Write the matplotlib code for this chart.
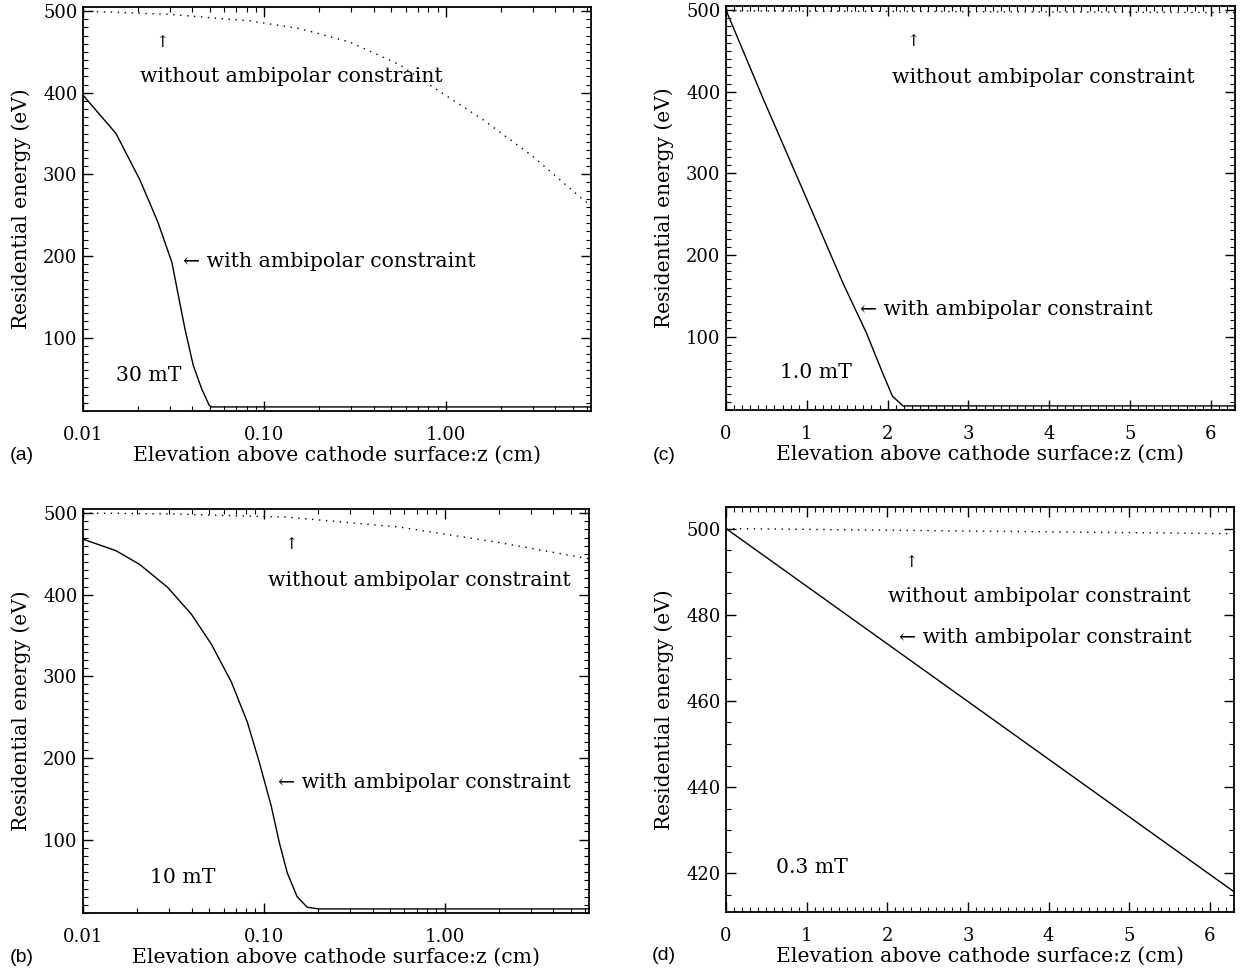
import numpy as np
import matplotlib.pyplot as plt
from matplotlib.ticker import MultipleLocator, FixedLocator, FuncFormatter, LogLocator, NullFormatter

# ---- data ----
# (a) 30 mT, log z
za_with = [0.01, 0.0152, 0.0206, 0.0259, 0.0309, 0.0335, 0.0365, 0.0405, 0.0451, 0.0496, 0.051, 6.3]
ea_with = [397, 350, 293, 241, 192, 152, 110, 66, 37, 17, 15, 15]
za_without = [0.01, 0.03, 0.0832, 0.157, 0.296, 0.558, 0.848, 1.60, 3.01, 5.69, 6.3]
ea_without = [500, 496, 488, 478.5, 462, 434, 407, 367, 322, 269, 262]

# (b) 10 mT, log z
zb_with = [0.01, 0.0152, 0.0206, 0.0294, 0.0398, 0.0514, 0.0662, 0.0811, 0.0944,
           0.110, 0.122, 0.135, 0.153, 0.174, 0.202, 6.3]
eb_with = [468, 454, 437, 409, 376, 339, 293, 244, 195, 141, 96, 59, 30, 17, 15, 15]
zb_without = [0.01, 0.03, 0.135, 0.558, 1.99, 6.3]
eb_without = [500, 499, 495, 483, 464, 444]

# (c) 1.0 mT, linear z
zc_with = [0.0, 0.466, 1.006, 1.45, 1.74, 1.94, 2.06, 2.19, 6.3]
ec_with = [500, 390, 267, 165, 104, 55, 27, 15, 15]
zc_without = [0.0, 6.3]
ec_without = [499, 497]

# (d) 0.3 mT, linear z
zd_with = [0.0, 6.3]
ed_with = [500, 415.7]
zd_without = [0.0, 6.3]
ed_without = [500, 498.8]

SERIF = ['DejaVu Serif', 'DejaVu Sans']
FS_TICK = 13
FS_TEXT = 14.7

fig = plt.figure(figsize=(12.43, 9.74), dpi=100)
W, H = 1243, 974


def make_ax(left, right, top, bottom):
    return fig.add_axes([left / W, 1 - bottom / H, (right - left) / W, (bottom - top) / H])


def style(ax, logx, yminor):
    for s in ax.spines.values():
        s.set_linewidth(1.3)
    ax.tick_params(which='both', direction='in', top=True, right=True, labelsize=FS_TICK)
    ax.tick_params(which='major', length=7, width=1)
    ax.tick_params(which='minor', length=3.5, width=0.8)
    ax.tick_params(axis='x', pad=11)
    ax.tick_params(axis='y', pad=4)
    for lab in ax.get_xticklabels() + ax.get_yticklabels():
        lab.set_family(SERIF)
    if logx:
        ax.set_xscale('log')
        ax.xaxis.set_major_locator(FixedLocator([0.01, 0.1, 1.0]))
        ax.xaxis.set_major_formatter(FuncFormatter(lambda v, p: f"{v:.2f}"))
        ax.xaxis.set_minor_locator(LogLocator(base=10, subs=np.arange(2, 10)))
        ax.xaxis.set_minor_formatter(NullFormatter())
    else:
        ax.xaxis.set_major_locator(MultipleLocator(1))
        ax.xaxis.set_minor_locator(MultipleLocator(0.1))
    ax.yaxis.set_minor_locator(MultipleLocator(yminor))
    ax.set_xlabel("Elevation above cathode surface:z (cm)", fontsize=FS_TEXT, family=SERIF)
    ax.set_ylabel("Residential energy (eV)", fontsize=14.5, family=SERIF)
    ax.xaxis.set_label_coords(0.5, -0.109)
    ax.xaxis.label.set_va('center')
    ax.yaxis.set_label_coords(-0.122, 0.5)
    ax.yaxis.label.set_va('center')


def notes(ax, arrow_xy, without_xy, with_xy, field, field_xy):
    kw = dict(transform=ax.transAxes, fontsize=FS_TEXT, family=SERIF, va='center', ha='left')
    ax.text(arrow_xy[0], arrow_xy[1], "\u2191", fontsize=FS_TEXT - 3, family=SERIF,
            transform=ax.transAxes, va='center', ha='center')
    ax.text(without_xy[0], without_xy[1], "without ambipolar constraint", **kw)
    ax.text(with_xy[0], with_xy[1], "\u2190 with ambipolar constraint", **kw)
    ax.text(field_xy[0], field_xy[1], field, **kw)


dot = (0, (1, 4))

# (a)
ax = make_ax(83, 591, 7, 411)
ax.plot(za_with, ea_with, color='black', lw=1)
ax.plot(za_without, ea_without, color='black', lw=1, linestyle=dot)
ax.set_xlim(0.01, 6.3)
ax.set_ylim(10, 505)
ax.yaxis.set_major_locator(MultipleLocator(100))
style(ax, True, 10)
notes(ax, (0.157, 0.911), (0.112, 0.827), (0.197, 0.369), "30 mT", (0.065, 0.089))

# (b)
ax = make_ax(83, 589, 509, 913)
ax.plot(zb_with, eb_with, color='black', lw=1)
ax.plot(zb_without, eb_without, color='black', lw=1, linestyle=dot)
ax.set_xlim(0.01, 6.3)
ax.set_ylim(10, 505)
ax.yaxis.set_major_locator(MultipleLocator(100))
style(ax, True, 10)
notes(ax, (0.411, 0.911), (0.366, 0.824), (0.385, 0.322), "10 mT", (0.132, 0.089))

# (c)
ax = make_ax(726, 1235, 6, 410)
ax.plot(zc_with, ec_with, color='black', lw=1)
ax.plot(zc_without, ec_without, color='black', lw=1, linestyle=dot)
ax.set_xlim(0, 6.3)
ax.set_ylim(10, 505)
ax.yaxis.set_major_locator(MultipleLocator(100))
style(ax, False, 10)
notes(ax, (0.369, 0.911), (0.326, 0.824), (0.263, 0.248), "1.0 mT", (0.106, 0.094))

# (d)
ax = make_ax(726, 1234, 507, 912)
ax.plot(zd_with, ed_with, color='black', lw=1)
ax.plot(zd_without, ed_without, color='black', lw=1, linestyle=dot)
ax.set_xlim(0, 6.3)
ax.set_ylim(411, 505)
ax.yaxis.set_major_locator(MultipleLocator(20))
style(ax, False, 5)
notes(ax, (0.364, 0.864), (0.319, 0.778), (0.341, 0.677), "0.3 mT", (0.098, 0.109))

# panel letters
for lab, x, y in [("(a)", 22, 455), ("(b)", 22, 958), ("(c)", 664, 455), ("(d)", 664, 955)]:
    fig.text(x / W, 1 - y / H, lab, fontsize=14, family='Liberation Sans', ha='center', va='center')

fig.savefig("out.png", dpi=100)
